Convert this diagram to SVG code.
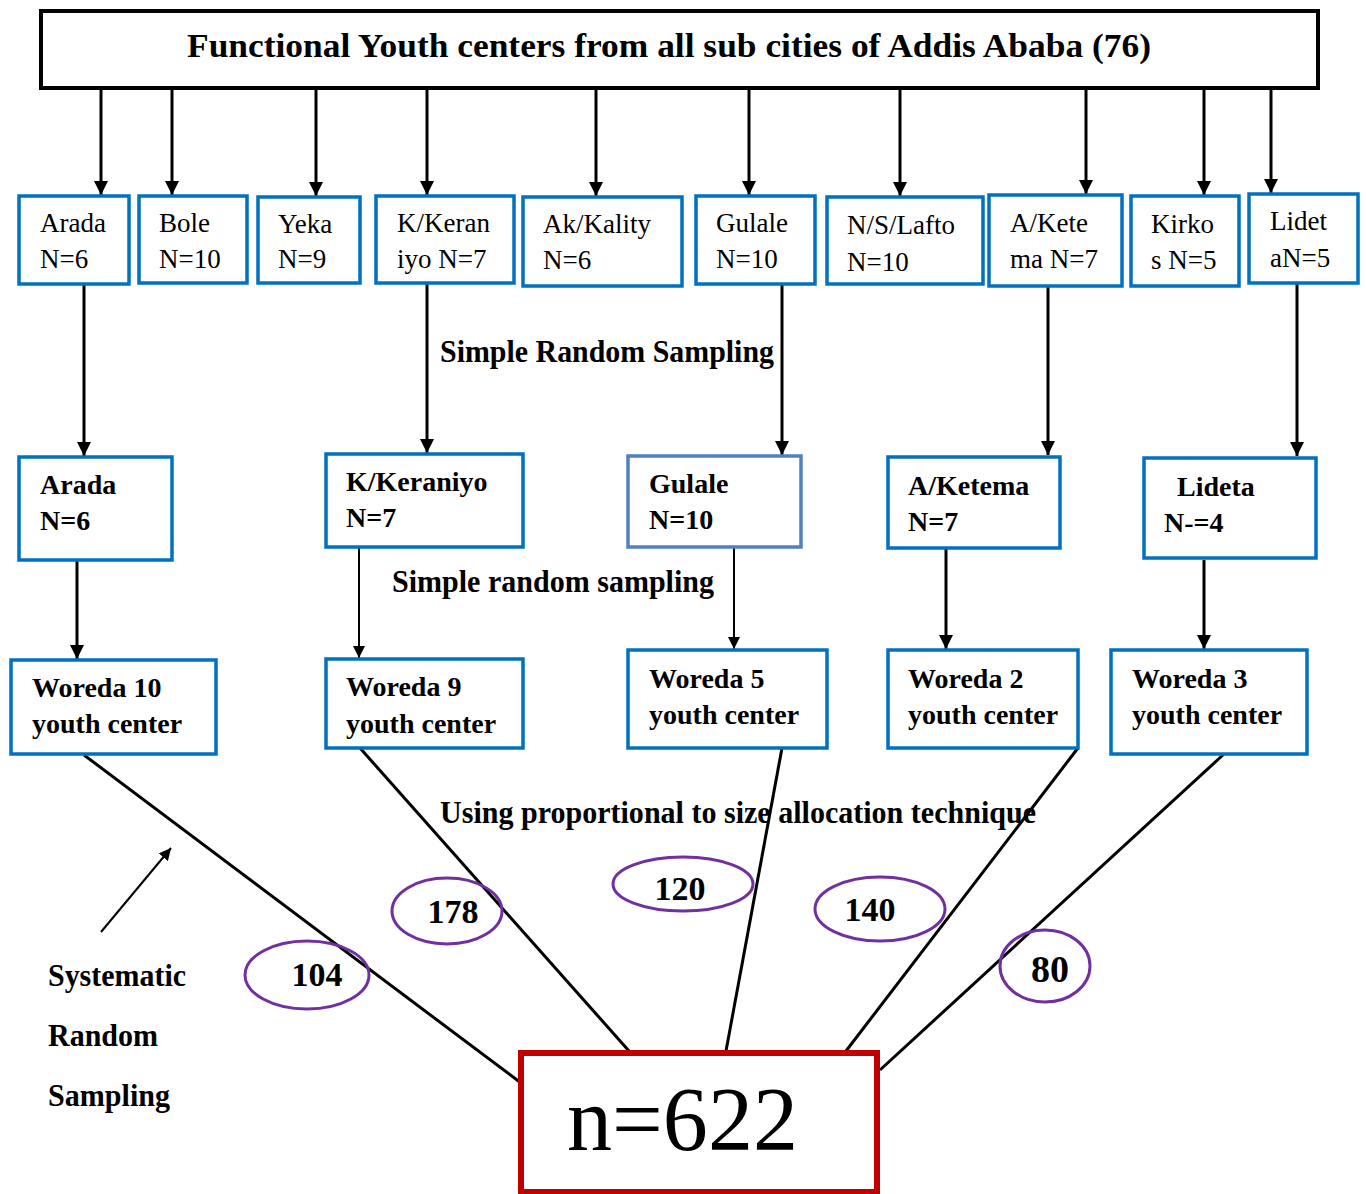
<svg xmlns="http://www.w3.org/2000/svg" width="1366" height="1194" viewBox="0 0 1366 1194">
<defs>
<marker id="ah" viewBox="0 0 10 10" refX="10" refY="5" markerWidth="14" markerHeight="14" markerUnits="userSpaceOnUse" orient="auto"><path d="M0,0 L10,5 L0,10 z" fill="#000"/></marker>
<marker id="ahs" viewBox="0 0 10 10" refX="10" refY="5" markerWidth="12" markerHeight="12" markerUnits="userSpaceOnUse" orient="auto"><path d="M0,0 L10,5 L0,10 z" fill="#000"/></marker>
</defs>
<style>
.box{fill:#fff;stroke:#0070C0;stroke-width:3.5}
.t1{font-family:"Liberation Serif","Times New Roman",serif;font-size:27px;fill:#000}
.t2{font-family:"Liberation Serif","Times New Roman",serif;font-size:28px;font-weight:bold;fill:#000}
.lbl{font-family:"Liberation Serif","Times New Roman",serif;font-size:31px;font-weight:bold;fill:#000}
.num{font-family:"Liberation Serif","Times New Roman",serif;font-size:34px;font-weight:bold;fill:#000}
.ell{fill:none;stroke:#7030A0;stroke-width:3}
.c{stroke:#000;stroke-width:3;fill:none}
.cs{stroke:#000;stroke-width:2;fill:none}
</style>
<rect width="1366" height="1194" fill="#fff"/>

<g id="connectors">
<line class="c" x1="101" y1="88" x2="101" y2="195" marker-end="url(#ah)"/>
<line class="c" x1="172" y1="88" x2="172" y2="195" marker-end="url(#ah)"/>
<line class="c" x1="316" y1="88" x2="316" y2="196" marker-end="url(#ah)"/>
<line class="c" x1="427" y1="88" x2="427" y2="195" marker-end="url(#ah)"/>
<line class="c" x1="596" y1="88" x2="596" y2="196" marker-end="url(#ah)"/>
<line class="c" x1="749" y1="88" x2="749" y2="195" marker-end="url(#ah)"/>
<line class="c" x1="900" y1="88" x2="900" y2="196" marker-end="url(#ah)"/>
<line class="c" x1="1086" y1="88" x2="1086" y2="194" marker-end="url(#ah)"/>
<line class="c" x1="1204" y1="88" x2="1204" y2="195" marker-end="url(#ah)"/>
<line class="c" x1="1271" y1="88" x2="1271" y2="193" marker-end="url(#ah)"/>

<line class="c" x1="84" y1="284" x2="84" y2="456" marker-end="url(#ah)"/>
<line class="c" x1="427" y1="283" x2="427" y2="453" marker-end="url(#ah)"/>
<line class="c" x1="782" y1="284" x2="782" y2="455" marker-end="url(#ah)"/>
<line class="c" x1="1048" y1="286" x2="1048" y2="455" marker-end="url(#ah)"/>
<line class="c" x1="1297" y1="283" x2="1297" y2="456" marker-end="url(#ah)"/>

<line class="c" x1="77" y1="560" x2="77" y2="659" marker-end="url(#ah)"/>
<line class="cs" x1="359" y1="547" x2="359" y2="658" marker-end="url(#ahs)"/>
<line class="cs" x1="734" y1="547" x2="734" y2="649" marker-end="url(#ahs)"/>
<line class="c" x1="946" y1="548" x2="946" y2="649" marker-end="url(#ah)"/>
<line class="c" x1="1204" y1="560" x2="1204" y2="649" marker-end="url(#ah)"/>

<line class="c" x1="84" y1="755" x2="521" y2="1083"/>
<line class="c" x1="360" y1="748" x2="629" y2="1051"/>
<line class="c" x1="782" y1="748" x2="726" y2="1051"/>
<line class="c" x1="1078" y1="748" x2="846" y2="1051"/>
<line class="c" x1="1224" y1="754" x2="880" y2="1070"/>

<line class="cs" x1="101" y1="932" x2="171" y2="848" marker-end="url(#ahs)"/>
</g>

<g id="top">
<rect x="41" y="11" width="1277" height="77" fill="#fff" stroke="#000" stroke-width="4"/>
<text class="t2" x="187" y="57" style="font-size:33px" textLength="964" lengthAdjust="spacingAndGlyphs">Functional Youth centers from all sub cities of Addis Ababa (76)</text>
</g>

<g id="l1-arada"><rect class="box" x="19" y="196" width="110" height="88"/><text class="t1" x="40" y="232">Arada</text><text class="t1" x="40" y="268">N=6</text></g>
<g id="l1-bole"><rect class="box" x="139" y="196" width="108" height="87"/><text class="t1" x="159" y="232">Bole</text><text class="t1" x="159" y="268">N=10</text></g>
<g id="l1-yeka"><rect class="box" x="258" y="197" width="102" height="86"/><text class="t1" x="278" y="233">Yeka</text><text class="t1" x="278" y="268">N=9</text></g>
<g id="l1-keraniyo"><rect class="box" x="376" y="196" width="138" height="87"/><text class="t1" x="397" y="232">K/Keran</text><text class="t1" x="397" y="268">iyo N=7</text></g>
<g id="l1-akaki"><rect class="box" x="523" y="197" width="159" height="89"/><text class="t1" x="543" y="233">Ak/Kality</text><text class="t1" x="543" y="269">N=6</text></g>
<g id="l1-gulale"><rect class="box" x="696" y="196" width="119" height="88"/><text class="t1" x="716" y="232">Gulale</text><text class="t1" x="716" y="268">N=10</text></g>
<g id="l1-lafto"><rect class="box" x="827" y="197" width="156" height="87"/><text class="t1" x="847" y="234">N/S/Lafto</text><text class="t1" x="847" y="271">N=10</text></g>
<g id="l1-ketema"><rect class="box" x="989" y="195" width="133" height="91"/><text class="t1" x="1010" y="232">A/Kete</text><text class="t1" x="1010" y="268">ma N=7</text></g>
<g id="l1-kirkos"><rect class="box" x="1131" y="196" width="108" height="90"/><text class="t1" x="1151" y="233">Kirko</text><text class="t1" x="1151" y="269">s N=5</text></g>
<g id="l1-lideta"><rect class="box" x="1249" y="194" width="109" height="89"/><text class="t1" x="1270" y="230">Lidet</text><text class="t1" x="1270" y="267">aN=5</text></g>

<g id="l2-arada"><rect class="box" x="19" y="457" width="153" height="103"/><text class="t2" x="40" y="494">Arada</text><text class="t2" x="40" y="530">N=6</text></g>
<g id="l2-keraniyo"><rect class="box" x="326" y="454" width="197" height="93"/><text class="t2" x="346" y="491">K/Keraniyo</text><text class="t2" x="346" y="527">N=7</text></g>
<g id="l2-gulale"><rect x="628" y="456" width="173" height="91" fill="#fff" stroke="#4F81BD" stroke-width="3.5"/><text class="t2" x="649" y="493">Gulale</text><text class="t2" x="649" y="529">N=10</text></g>
<g id="l2-ketema"><rect class="box" x="888" y="457" width="172" height="91" /><text class="t2" x="908" y="495">A/Ketema</text><text class="t2" x="908" y="531">N=7</text></g>
<g id="l2-lideta"><rect class="box" x="1144" y="458" width="172" height="100"/><text class="t2" x="1177" y="496">Lideta</text><text class="t2" x="1164" y="532">N-=4</text></g>

<g id="l3-w10"><rect class="box" x="11" y="660" width="205" height="94"/><text class="t2" x="32" y="697">Woreda 10</text><text class="t2" x="32" y="733">youth center</text></g>
<g id="l3-w9"><rect class="box" x="326" y="659" width="197" height="89"/><text class="t2" x="346" y="696">Woreda 9</text><text class="t2" x="346" y="733">youth center</text></g>
<g id="l3-w5"><rect class="box" x="628" y="650" width="199" height="98"/><text class="t2" x="649" y="688">Woreda 5</text><text class="t2" x="649" y="724">youth center</text></g>
<g id="l3-w2"><rect class="box" x="888" y="650" width="190" height="98"/><text class="t2" x="908" y="688">Woreda 2</text><text class="t2" x="908" y="724">youth center</text></g>
<g id="l3-w3"><rect class="box" x="1111" y="650" width="196" height="104"/><text class="t2" x="1132" y="688">Woreda 3</text><text class="t2" x="1132" y="724">youth center</text></g>

<g id="sample">
<rect x="521" y="1053" width="356" height="139" fill="#fff" stroke="#C00000" stroke-width="6"/>
<text x="567" y="1150" font-family="Liberation Serif, Times New Roman, serif" font-size="90" textLength="231" lengthAdjust="spacingAndGlyphs" fill="#000">n=622</text>
</g>

<g id="counts">
<ellipse class="ell" cx="307" cy="975" rx="62" ry="34"/><text class="num" x="317" y="986" text-anchor="middle">104</text>
<ellipse class="ell" cx="447" cy="911" rx="55" ry="33"/><text class="num" x="453" y="923" text-anchor="middle">178</text>
<ellipse class="ell" cx="683" cy="884" rx="70" ry="27"/><text class="num" x="680" y="900" text-anchor="middle">120</text>
<ellipse class="ell" cx="880" cy="909" rx="65" ry="32"/><text class="num" x="870" y="921" text-anchor="middle">140</text>
<ellipse class="ell" cx="1045" cy="966" rx="45" ry="36"/><text class="num" x="1050" y="982" text-anchor="middle" style="font-size:38px">80</text>
</g>

<g id="labels">
<text class="lbl" x="440" y="362" textLength="334" lengthAdjust="spacingAndGlyphs">Simple Random Sampling</text>
<text class="lbl" x="392" y="592" textLength="322" lengthAdjust="spacingAndGlyphs">Simple random sampling</text>
<text class="lbl" x="440" y="823" textLength="596" lengthAdjust="spacingAndGlyphs">Using proportional to size allocation technique</text>
<text class="lbl" x="48" y="986" textLength="138" lengthAdjust="spacingAndGlyphs">Systematic</text>
<text class="lbl" x="48" y="1046" textLength="110" lengthAdjust="spacingAndGlyphs">Random</text>
<text class="lbl" x="48" y="1106" textLength="122" lengthAdjust="spacingAndGlyphs">Sampling</text>
</g>
</svg>
